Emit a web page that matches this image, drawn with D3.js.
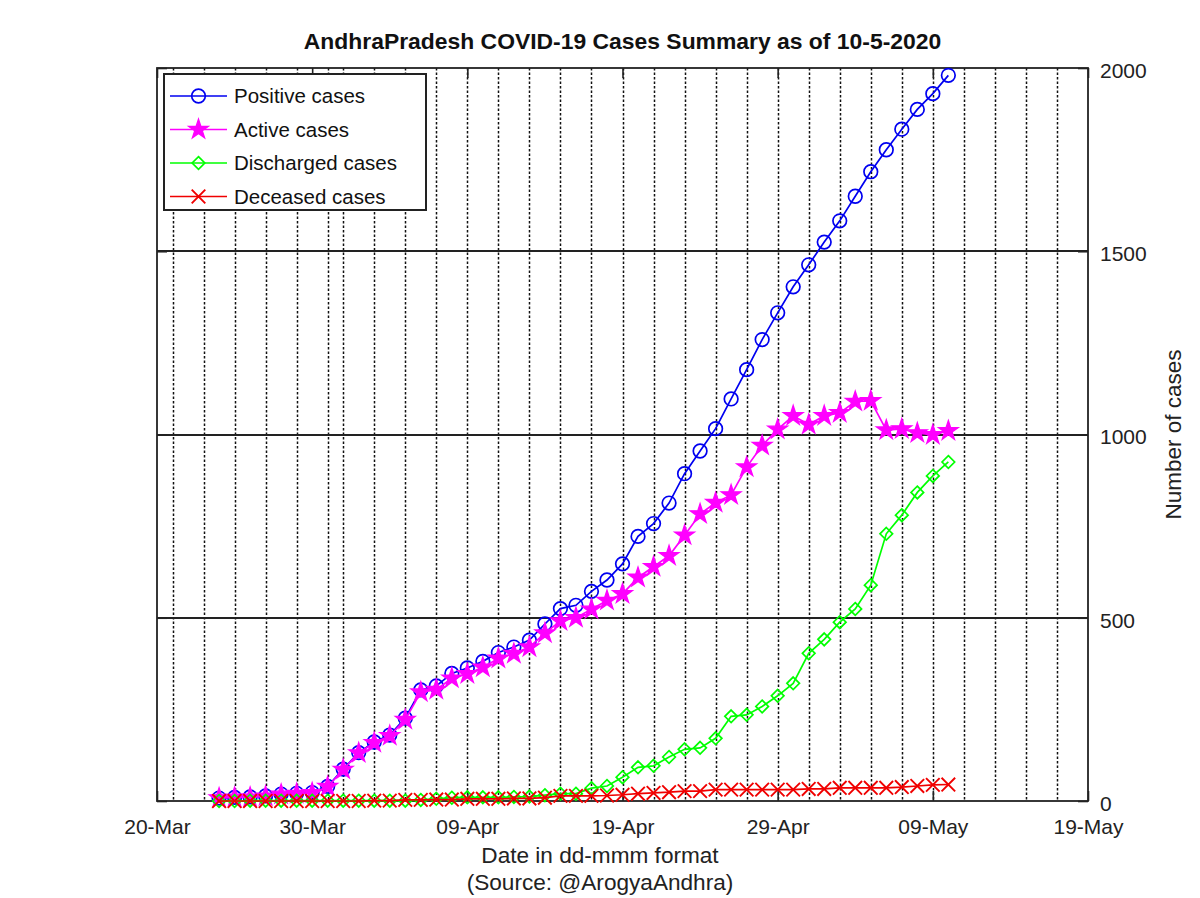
<!DOCTYPE html>
<html>
<head>
<meta charset="utf-8">
<script src="https://cdn.jsdelivr.net/npm/d3@7"></script>
<style>
  html, body { margin: 0; padding: 0; background: #fff; }
  svg { display: block; font-family: "Liberation Sans", Arial, Helvetica, sans-serif; }
</style>
</head>
<body>
<svg id="chart" width="1200" height="898"></svg>
<script>
// ---- data ----
const dates = ["24-Mar","25-Mar","26-Mar","27-Mar","28-Mar","29-Mar","30-Mar","31-Mar",
  "01-Apr","02-Apr","03-Apr","04-Apr","05-Apr","06-Apr","07-Apr","08-Apr","09-Apr","10-Apr",
  "11-Apr","12-Apr","13-Apr","14-Apr","15-Apr","16-Apr","17-Apr","18-Apr","19-Apr","20-Apr",
  "21-Apr","22-Apr","23-Apr","24-Apr","25-Apr","26-Apr","27-Apr","28-Apr","29-Apr","30-Apr",
  "01-May","02-May","03-May","04-May","05-May","06-May","07-May","08-May","09-May","10-May"];
const positive = [8,10,11,14,19,21,23,40,87,132,161,180,226,303,314,348,363,381,405,420,
  439,483,525,534,572,603,647,722,757,813,893,955,1016,1097,1177,1259,1332,1403,
  1463,1525,1583,1650,1717,1777,1833,1887,1930,1980];
const active = [8,10,10,13,18,20,22,39,86,131,159,178,222,297,304,335,347,365,389,402,
  420,458,491,500,523,547,565,610,639,669,725,783,814,835,911,970,1014,1051,
  1027,1051,1059,1090,1092,1012,1015,1004,999,1010];
const discharged = [0,0,1,1,1,1,1,1,1,1,1,1,1,3,6,9,10,10,10,11,
  12,16,20,20,35,41,65,92,96,120,141,145,171,231,235,258,287,321,
  403,441,488,524,589,729,780,842,887,925];
const deceased = [0,0,0,0,0,0,0,0,0,0,1,1,3,3,4,4,6,6,6,7,
  7,9,14,14,14,15,17,20,22,24,27,27,31,31,31,31,31,31,
  33,33,36,36,36,36,38,41,44,45];
const xTickLabels = ["20-Mar","30-Mar","09-Apr","19-Apr","29-Apr","09-May","19-May"];
const yTicks = [0, 500, 1000, 1500, 2000];
const seriesNames = ["Positive cases","Active cases","Discharged cases","Deceased cases"];
const seriesColors = ["#0000f0","#ff00ff","#00ff00","#f00000"];

// ---- layout ----
const svg = d3.select("#chart");
const L = 157, R = 1088, T = 68, B = 801;
const parse = s => d3.utcParse("%d-%b-%Y")(s + "-2020");
const x = d3.scaleUtc().domain([parse("20-Mar"), parse("19-May")]).range([L, R]);
const y = d3.scaleLinear().domain([0, 2000]).range([B, T]);

// vertical dotted grid every 2 days
const gridDays = d3.utcDay.every(2).range(d3.utcDay.offset(parse("20-Mar"), 1), parse("19-May"))
  .filter(d => d > parse("20-Mar") && d < parse("19-May"));
svg.append("g").selectAll("line").data(gridDays).join("line")
  .attr("x1", d => Math.round(x(d)) + 0.5).attr("x2", d => Math.round(x(d)) + 0.5)
  .attr("y1", T).attr("y2", B)
  .attr("stroke", "#111").attr("stroke-width", 1.5).attr("stroke-dasharray", "2.5,2");

// horizontal solid grid
svg.append("g").selectAll("line").data(yTicks.filter(v => v > 0 && v < 2000)).join("line")
  .attr("x1", L).attr("x2", R)
  .attr("y1", d => Math.round(y(d))).attr("y2", d => Math.round(y(d)))
  .attr("stroke", "#222").attr("stroke-width", 1.8);

// axes
const xTickDates = xTickLabels.map(parse);
const xAxisB = d3.axisBottom(x).tickValues(xTickDates).tickFormat(d3.utcFormat("%d-%b"))
  .tickSizeInner(-10).tickSizeOuter(0).tickPadding(18);
const gxb = svg.append("g").attr("transform", `translate(0,${B})`).call(xAxisB);
const xAxisT = d3.axisTop(x).tickValues(xTickDates).tickFormat("").tickSizeInner(-10).tickSizeOuter(0);
const gxt = svg.append("g").attr("transform", `translate(0,${T})`).call(xAxisT);
const yAxisR = d3.axisRight(y).tickValues(yTicks).tickFormat(d3.format("d"))
  .tickSizeInner(-10).tickSizeOuter(0).tickPadding(12);
const gyr = svg.append("g").attr("transform", `translate(${R},0)`).call(yAxisR);
const yAxisL = d3.axisLeft(y).tickValues(yTicks).tickFormat("").tickSizeInner(-10).tickSizeOuter(0);
const gyl = svg.append("g").attr("transform", `translate(${L},0)`).call(yAxisL);
[gxb, gxt, gyr, gyl].forEach(g => {
  g.select(".domain").remove();
  g.selectAll(".tick line").attr("stroke", "#222").attr("stroke-width", 1.6);
  g.selectAll("text").attr("fill", "#222").attr("font-size", 21)
    .attr("font-family", "'Liberation Sans', Arial, sans-serif");
});
gyr.selectAll("text").attr("dy", "0.45em");

// frame
svg.append("rect").attr("x", L).attr("y", T).attr("width", R - L).attr("height", B - T)
  .attr("fill", "none").attr("stroke", "#222").attr("stroke-width", 1.8);

// series
const allSeries = [positive, active, discharged, deceased];
const line = d3.line().x((d, i) => x(parse(dates[i]))).y(d => y(d));
const star = d3.symbol().type(d3.symbolStar).size(120);
function drawMarker(g, k, cx, cy) {
  const c = seriesColors[k];
  if (k === 0) {
    g.append("circle").attr("cx", cx).attr("cy", cy).attr("r", 6.8)
      .attr("fill", "none").attr("stroke", c).attr("stroke-width", 1.7);
  } else if (k === 1) {
    g.append("path").attr("d", star()).attr("transform", `translate(${cx},${cy})`)
      .attr("fill", c).attr("stroke", c).attr("stroke-width", 1.3);
  } else if (k === 2) {
    const r = 6.3;
    g.append("path").attr("d", `M${cx},${cy - r}L${cx + r},${cy}L${cx},${cy + r}L${cx - r},${cy}Z`)
      .attr("fill", "none").attr("stroke", c).attr("stroke-width", 1.7);
  } else {
    const r = 6.8;
    g.append("path").attr("d", `M${cx - r},${cy - r}L${cx + r},${cy + r}M${cx - r},${cy + r}L${cx + r},${cy - r}`)
      .attr("fill", "none").attr("stroke", c).attr("stroke-width", 1.9);
  }
}
allSeries.forEach((vals, k) => {
  const g = svg.append("g");
  g.append("path").datum(vals).attr("d", line)
    .attr("fill", "none").attr("stroke", seriesColors[k]).attr("stroke-width", 1.7);
  vals.forEach((v, i) => drawMarker(g, k, x(parse(dates[i])), y(v)));
});

// legend
const lg = svg.append("g");
lg.append("rect").attr("x", 164).attr("y", 74).attr("width", 262).attr("height", 136)
  .attr("fill", "#fff").attr("stroke", "#222").attr("stroke-width", 2);
seriesNames.forEach((name, k) => {
  const ly = 96 + k * 33.5;
  lg.append("line").attr("x1", 170).attr("x2", 227).attr("y1", ly).attr("y2", ly)
    .attr("stroke", seriesColors[k]).attr("stroke-width", 1.7);
  drawMarker(lg, k, 198.5, ly);
  lg.append("text").attr("x", 234).attr("y", ly).attr("dy", "0.36em")
    .attr("font-size", 20.5).attr("fill", "#111").text(name);
});

// titles
svg.append("text").attr("x", (L + R) / 2).attr("y", 49).attr("text-anchor", "middle")
  .attr("font-size", 22.9).attr("font-weight", "bold").attr("fill", "#111")
  .text("AndhraPradesh COVID-19 Cases Summary as of 10-5-2020");
svg.append("text").attr("x", 600).attr("y", 863).attr("text-anchor", "middle")
  .attr("font-size", 22.6).attr("fill", "#222").text("Date in dd-mmm format");
svg.append("text").attr("x", 600).attr("y", 890).attr("text-anchor", "middle")
  .attr("font-size", 22.6).attr("fill", "#222").text("(Source: @ArogyaAndhra)");
svg.append("text").attr("transform", `translate(1181,${(T + B) / 2}) rotate(-90)`)
  .attr("text-anchor", "middle").attr("font-size", 22.5).attr("fill", "#222").text("Number of cases");
</script>
</body>
</html>
